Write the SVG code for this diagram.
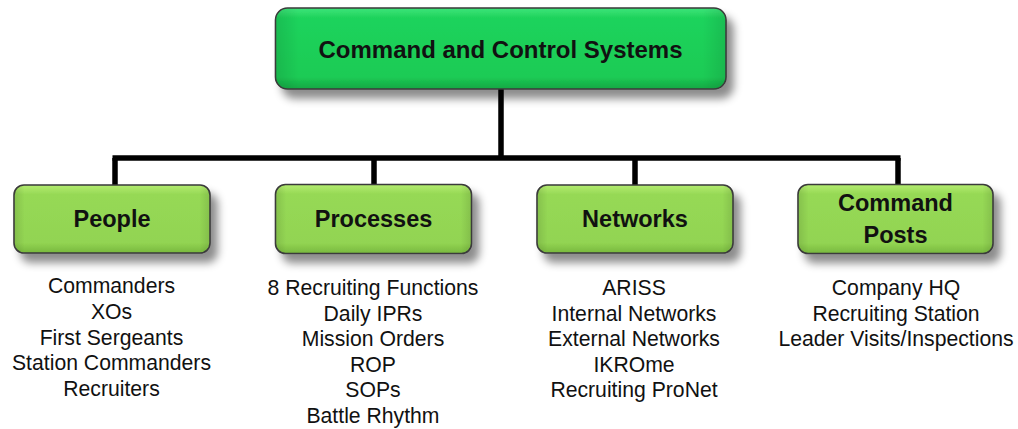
<svg xmlns="http://www.w3.org/2000/svg" width="1018" height="429" viewBox="0 0 1018 429">
  <defs>
    <filter id="shadow" x="-10%" y="-20%" width="130%" height="160%">
      <feGaussianBlur in="SourceAlpha" stdDeviation="4.5"/>
      <feOffset dx="7" dy="9" result="b"/>
      <feFlood flood-color="#000" flood-opacity="0.45"/>
      <feComposite in2="b" operator="in" result="s"/>
      <feMerge><feMergeNode in="s"/><feMergeNode in="SourceGraphic"/></feMerge>
    </filter>
    <linearGradient id="gTop" x1="0" y1="0" x2="0" y2="1">
      <stop offset="0" stop-color="#3ee57a"/>
      <stop offset="0.12" stop-color="#1fd35c"/>
      <stop offset="0.85" stop-color="#1ccb55"/>
      <stop offset="1" stop-color="#14a843"/>
    </linearGradient>
    <linearGradient id="gChild" x1="0" y1="0" x2="0" y2="1">
      <stop offset="0" stop-color="#b4ec70"/>
      <stop offset="0.14" stop-color="#96d955"/>
      <stop offset="0.85" stop-color="#92d452"/>
      <stop offset="1" stop-color="#78b83e"/>
    </linearGradient>
    <linearGradient id="gSide" x1="0" y1="0" x2="1" y2="0">
      <stop offset="0" stop-color="#000" stop-opacity="0.10"/>
      <stop offset="0.05" stop-color="#000" stop-opacity="0"/>
      <stop offset="0.95" stop-color="#000" stop-opacity="0"/>
      <stop offset="1" stop-color="#000" stop-opacity="0.10"/>
    </linearGradient>
  </defs>
  <style>
    .top { fill: url(#gTop); stroke: #3a3a3a; stroke-width: 1.6; }
    .child { fill: url(#gChild); stroke: #3a3a3a; stroke-width: 1.6; }
    .side { fill: url(#gSide); stroke: none; }
    .title { font-family: "Liberation Sans", Arial, sans-serif; font-weight: bold; font-size: 24px; fill: #111; text-anchor: middle; }
    .label { font-family: "Liberation Sans", Arial, sans-serif; font-weight: bold; font-size: 23.5px; fill: #111; text-anchor: middle; }
    .item { font-family: "Liberation Sans", Arial, sans-serif; font-size: 21.2px; fill: #111; text-anchor: middle; }
    .conn { stroke: #000; stroke-width: 5.5; fill: none; stroke-linecap: butt; }
  </style>
  <rect width="1018" height="429" fill="#fff"/>

  <g id="connectors">
    <line class="conn" x1="501" y1="88" x2="501" y2="158"/>
    <line class="conn" x1="112.5" y1="158" x2="900.5" y2="158"/>
    <line class="conn" x1="115" y1="158" x2="115" y2="186"/>
    <line class="conn" x1="374" y1="158" x2="374" y2="186"/>
    <line class="conn" x1="635" y1="158" x2="635" y2="186"/>
    <line class="conn" x1="898" y1="158" x2="898" y2="186"/>
  </g>

  <g id="node-root">
    <g filter="url(#shadow)">
      <rect class="top" x="275.5" y="8" width="450.5" height="81" rx="12"/>
    </g>
    <rect class="side" x="276.5" y="9" width="448.5" height="79" rx="11"/>
    <text class="title" x="500.5" y="58.3">Command and Control Systems</text>
  </g>

  <g id="node-people">
    <g filter="url(#shadow)">
      <rect class="child" x="14" y="185" width="196" height="68" rx="10"/>
    </g>
    <rect class="side" x="15" y="186" width="194" height="66" rx="9"/>
    <text class="label" x="112" y="226.7">People</text>
    <text class="item" x="111.5" y="293">Commanders</text>
    <text class="item" x="111.5" y="318.8">XOs</text>
    <text class="item" x="111.5" y="344.6">First Sergeants</text>
    <text class="item" x="111.5" y="370.4">Station Commanders</text>
    <text class="item" x="111.5" y="396.2">Recruiters</text>
  </g>

  <g id="node-processes">
    <g filter="url(#shadow)">
      <rect class="child" x="275.5" y="184.5" width="196" height="69" rx="10"/>
    </g>
    <rect class="side" x="276.5" y="185.5" width="194" height="67" rx="9"/>
    <text class="label" x="373.5" y="226.7">Processes</text>
    <text class="item" x="373" y="295">8 Recruiting Functions</text>
    <text class="item" x="373" y="320.5">Daily IPRs</text>
    <text class="item" x="373" y="346">Mission Orders</text>
    <text class="item" x="373" y="371.5">ROP</text>
    <text class="item" x="373" y="397">SOPs</text>
    <text class="item" x="373" y="422.5">Battle Rhythm</text>
  </g>

  <g id="node-networks">
    <g filter="url(#shadow)">
      <rect class="child" x="537" y="185" width="196" height="68" rx="10"/>
    </g>
    <rect class="side" x="538" y="186" width="194" height="66" rx="9"/>
    <text class="label" x="635" y="227">Networks</text>
    <text class="item" x="634" y="295">ARISS</text>
    <text class="item" x="634" y="320.5">Internal Networks</text>
    <text class="item" x="634" y="346">External Networks</text>
    <text class="item" x="634" y="371.5">IKROme</text>
    <text class="item" x="634" y="397">Recruiting ProNet</text>
  </g>

  <g id="node-command-posts">
    <g filter="url(#shadow)">
      <rect class="child" x="798" y="184.5" width="195" height="69" rx="10"/>
    </g>
    <rect class="side" x="799" y="185.5" width="193" height="67" rx="9"/>
    <text class="label" x="895.5" y="211">Command</text>
    <text class="label" x="895.5" y="242.5">Posts</text>
    <text class="item" x="896" y="295">Company HQ</text>
    <text class="item" x="896" y="320.5">Recruiting Station</text>
    <text class="item" x="896" y="346">Leader Visits/Inspections</text>
  </g>
</svg>
